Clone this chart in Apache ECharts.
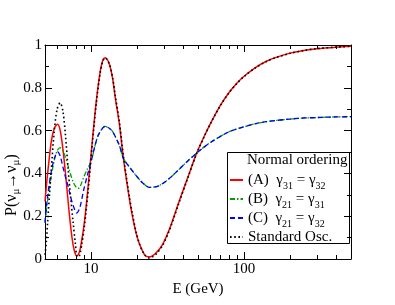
<!DOCTYPE html>
<html><head><meta charset="utf-8">
<script src="https://cdn.jsdelivr.net/npm/echarts@6/dist/echarts.min.js"></script>
<style>html,body{margin:0;padding:0;background:#fff}#c{width:395px;height:305px}</style>
</head><body><div id="c"></div>
<script>
// ---- data ----
const energyA = [5.0, 5.15, 5.33, 5.5, 5.75, 6.04, 6.29, 6.58, 6.89, 7.21, 7.54, 7.77, 8.05, 8.25, 8.51, 9.04, 9.6, 10.19, 10.83, 11.5, 11.95, 12.35, 13.18, 13.85, 14.42, 15.32, 16.27, 17.81, 18.64, 19.71, 20.72, 21.77, 22.68, 23.84, 25.19, 26.76, 29.43, 32.55, 37.86, 42.72, 48.7, 55, 61, 70, 80, 90, 100, 120, 140, 160, 200, 250, 300, 400, 500];
const probA   = [0.27, 0.37, 0.47, 0.55, 0.61, 0.63, 0.60, 0.50, 0.36, 0.21, 0.09, 0.04, 0.015, 0.02, 0.05, 0.17, 0.35, 0.55, 0.74, 0.88, 0.93, 0.94, 0.91, 0.84, 0.75, 0.63, 0.47, 0.28, 0.20, 0.12, 0.07, 0.035, 0.015, 0.01, 0.015, 0.03, 0.07, 0.14, 0.275, 0.378, 0.49, 0.575, 0.64, 0.718, 0.779, 0.822, 0.854, 0.897, 0.924, 0.941, 0.962, 0.976, 0.983, 0.990, 0.994];

const energyB = [5.0, 5.19, 5.47, 5.75, 6.0, 6.28, 6.55, 6.8, 7.08, 7.35, 7.64, 8.0, 8.26, 8.5, 8.93, 9.45, 10.0, 10.78, 11.3, 12.35, 13.2, 13.85, 15.32, 16.27, 17.81, 19.71, 21.77, 24.1, 26.76, 29.43, 32.55, 37.86, 42.72, 48.7, 55, 61, 70, 80, 90, 100, 120, 140, 160, 200, 250, 300, 400, 500];
const probB   = [0.17, 0.27, 0.38, 0.46, 0.505, 0.52, 0.505, 0.475, 0.435, 0.395, 0.36, 0.335, 0.33, 0.34, 0.38, 0.42, 0.455, 0.548, 0.587, 0.62, 0.61, 0.595, 0.53, 0.47, 0.43, 0.39, 0.355, 0.335, 0.338, 0.353, 0.377, 0.421, 0.457, 0.493, 0.524, 0.547, 0.573, 0.595, 0.608, 0.618, 0.633, 0.642, 0.647, 0.654, 0.659, 0.661, 0.664, 0.665];

const energyC = [5.0, 5.19, 5.47, 5.75, 6.06, 6.29, 6.55, 6.82, 7.08, 7.35, 7.64, 8.05, 8.45, 8.93, 9.45, 10.0, 10.78, 11.3, 12.35, 13.2, 13.85, 15.32, 16.27, 17.81, 19.71, 21.77, 24.1, 26.76, 29.43, 32.55, 37.86, 42.72, 48.7, 55, 61, 70, 80, 90, 100, 120, 140, 160, 200, 250, 300, 400, 500];
const probC   = [0.17, 0.29, 0.40, 0.47, 0.50, 0.48, 0.43, 0.38, 0.34, 0.29, 0.25, 0.215, 0.24, 0.32, 0.39, 0.455, 0.548, 0.587, 0.62, 0.61, 0.595, 0.53, 0.47, 0.43, 0.39, 0.355, 0.335, 0.338, 0.353, 0.377, 0.421, 0.457, 0.493, 0.524, 0.547, 0.573, 0.595, 0.608, 0.618, 0.633, 0.642, 0.647, 0.654, 0.659, 0.661, 0.664, 0.665];

const energyStd = [5.0, 5.1, 5.2, 5.35, 5.5, 5.75, 6.0, 6.28, 6.55, 6.8, 7.08, 7.35, 7.64, 7.9, 8.13, 8.4, 8.7, 9.04, 9.6, 10.19, 10.83, 11.5, 11.95, 12.35, 13.18, 13.85, 14.42, 15.32, 16.27, 17.81, 18.64, 19.71, 20.72, 21.77, 22.68, 23.84, 25.19, 26.76, 29.43, 32.55, 37.86, 42.72, 48.7, 55, 61, 70, 80, 90, 100, 120, 140, 160, 200, 250, 300, 400, 500];
const probStd   = [0.02, 0.08, 0.17, 0.30, 0.42, 0.60, 0.70, 0.73, 0.69, 0.58, 0.42, 0.29, 0.17, 0.07, 0.01, 0.015, 0.07, 0.15, 0.33, 0.54, 0.73, 0.875, 0.925, 0.94, 0.91, 0.845, 0.76, 0.64, 0.48, 0.29, 0.21, 0.125, 0.07, 0.035, 0.015, 0.005, 0.01, 0.025, 0.065, 0.135, 0.27, 0.375, 0.488, 0.573, 0.639, 0.717, 0.778, 0.821, 0.853, 0.896, 0.923, 0.940, 0.961, 0.975, 0.983, 0.990, 0.994];

const seriesNames = ['(A)  γ31 = γ32', '(B)  γ21 = γ31', '(C)  γ21 = γ32', 'Standard Osc.'];
const legendRich  = ['(A)  γ{s|31} = γ{s|32}', '(B)  γ{s|21} = γ{s|31}', '(C)  γ{s|21} = γ{s|32}', 'Standard Osc.'];
const legendTitle = 'Normal ordering';
const xMajorTicks = [10, 100];
const xMinorTicks = [6, 7, 8, 9, 20, 30, 40, 50, 60, 70, 80, 90, 200, 300, 400];
const xAxisName = 'E (GeV)';
const yAxisNameRich = 'P(ν{s|μ}→ν{s|μ})';

const FONT = 'Liberation Serif';
const FS = 15;
const pair = (xs, ys) => xs.map((x, i) => [x, ys[i]]);

const tickData = xMajorTicks.map(v => [v, 1]).concat(xMinorTicks.map(v => [v, 0]));

const chart = echarts.init(document.getElementById('c'), null, {renderer: 'canvas'});
const lineBase = {type: 'line', symbol: 'none', smooth: 0.3, xAxisIndex: 0, yAxisIndex: 0, emphasis: {disabled: true}};

chart.setOption({
  animation: false,
  backgroundColor: '#fff',
  grid: {left: 45, right: 44, top: 45, bottom: 46},
  xAxis: [{
    type: 'log', logBase: 10, min: 5, max: 500, position: 'bottom',
    axisLine: {onZero: false, lineStyle: {color: '#000', width: 1}},
    axisTick: {show: false}, splitLine: {show: false},
    axisLabel: {color: '#000', fontFamily: FONT, fontSize: FS, margin: 3,
      formatter: v => (xMajorTicks.some(t => Math.abs(t - v) < 1e-6) ? String(Math.round(v)) : '')},
    name: xAxisName, nameLocation: 'middle', nameGap: 10,
    nameTextStyle: {color: '#000', fontFamily: FONT, fontSize: FS}
  }, {
    type: 'log', logBase: 10, min: 5, max: 500, position: 'top',
    axisLine: {onZero: false, lineStyle: {color: '#000', width: 1}},
    axisTick: {show: false}, axisLabel: {show: false}, splitLine: {show: false}
  }],
  yAxis: [{
    type: 'value', min: 0, max: 1, interval: 0.2, position: 'left',
    axisLine: {show: true, onZero: false, lineStyle: {color: '#000', width: 1}},
    axisTick: {show: true, inside: true, length: 7, lineStyle: {color: '#000'}},
    minorTick: {show: true, splitNumber: 2, length: 4, lineStyle: {color: '#000'}},
    splitLine: {show: false},
    axisLabel: {color: '#000', fontFamily: FONT, fontSize: FS, margin: 3}
  }, {
    type: 'value', min: 0, max: 1, interval: 0.2, position: 'right',
    axisLine: {show: true, onZero: false, lineStyle: {color: '#000', width: 1}},
    axisTick: {show: true, inside: true, length: 7, lineStyle: {color: '#000'}},
    minorTick: {show: true, splitNumber: 2, length: 4, lineStyle: {color: '#000'}},
    splitLine: {show: false}, axisLabel: {show: false}
  }],
  legend: {
    data: seriesNames, orient: 'vertical', left: 229, top: 169, padding: 0,
    itemGap: -3, itemWidth: 13, itemHeight: 10, selectedMode: false,
    itemStyle: {opacity: 0, borderWidth: 0},
    textStyle: {color: '#000', fontFamily: FONT, fontSize: FS, lineHeight: 22,
      rich: {s: {fontFamily: FONT, fontSize: 10, verticalAlign: 'bottom', lineHeight: 22, color: '#000'}}},
    formatter: name => legendRich[seriesNames.indexOf(name)]
  },
  graphic: [
    {type: 'rect', left: 227, top: 152, shape: {width: 122, height: 91}, style: {fill: '#fff', stroke: '#000', lineWidth: 1}, z: -1},
    {type: 'text', left: 247, top: 153, style: {text: legendTitle, fill: '#000', font: FS + 'px "Liberation Serif"'}},
    {type: 'text', x: 1, y: 216, rotation: Math.PI / 2,
      style: {text: yAxisNameRich, fill: '#000', fontFamily: FONT, fontSize: FS + 1, lineHeight: 21,
        rich: {s: {fontFamily: FONT, fontSize: 11, verticalAlign: 'bottom', lineHeight: 21, fill: '#000'}}}}
  ],
  series: [
    Object.assign({}, lineBase, {name: seriesNames[0], data: pair(energyA, probA), z: 3,
      lineStyle: {color: '#ff0000', width: 1.5, type: 'solid'}, itemStyle: {color: '#ff0000'}}),
    Object.assign({}, lineBase, {name: seriesNames[1], data: pair(energyB, probB), z: 4,
      lineStyle: {color: '#00a000', width: 1.3, type: [5, 2, 1.5, 2]}, itemStyle: {color: '#00a000'}}),
    Object.assign({}, lineBase, {name: seriesNames[2], data: pair(energyC, probC), z: 5,
      lineStyle: {color: '#0000ff', width: 1.3, type: [5, 3]}, itemStyle: {color: '#0000ff'}}),
    Object.assign({}, lineBase, {name: seriesNames[3], data: pair(energyStd, probStd), z: 6,
      lineStyle: {color: '#000000', width: 1.6, type: [1.6, 2.6]}, itemStyle: {color: '#000'}}),
    {type: 'custom', name: 'ticks', silent: true, z: 10, clip: false, xAxisIndex: 0, yAxisIndex: 0,
      data: tickData, encode: {x: 0, y: 1},
      renderItem: (params, api) => {
        const e = api.value(0), major = api.value(1) === 1;
        const len = major ? 7 : 4;
        const pb = api.coord([e, 0]), pt = api.coord([e, 1]);
        const x = Math.round(pb[0]) + 0.5;
        return {type: 'group', children: [
          {type: 'line', shape: {x1: x, y1: pb[1], x2: x, y2: pb[1] - len}, style: {stroke: '#000', lineWidth: 1}},
          {type: 'line', shape: {x1: x, y1: pt[1], x2: x, y2: pt[1] + len}, style: {stroke: '#000', lineWidth: 1}}
        ]};
      }}
  ]
});
</script></body></html>
